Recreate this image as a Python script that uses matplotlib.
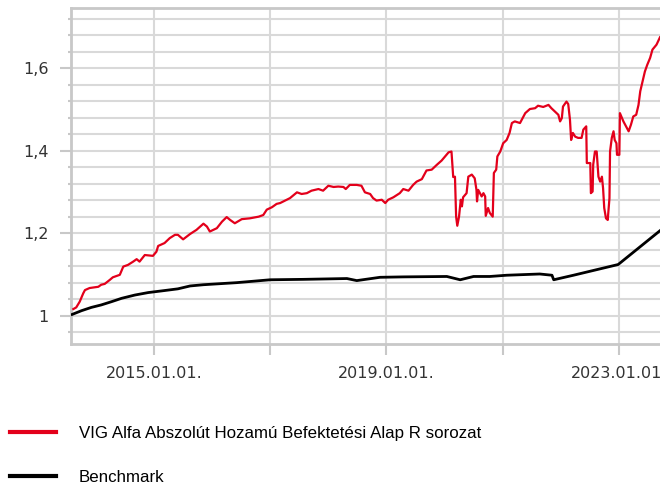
import matplotlib
matplotlib.use("Agg")
import matplotlib.pyplot as plt
from matplotlib.ticker import MultipleLocator, FuncFormatter, FixedLocator

# dates as decimal years, values as growth of 1 unit
fund_t = [2013.61, 2013.66, 2013.72, 2013.78, 2013.81, 2013.89, 2014.04, 2014.09, 2014.15, 2014.24,
          2014.29, 2014.41, 2014.47, 2014.55, 2014.64, 2014.70, 2014.75, 2014.84, 2014.98, 2015.04,
          2015.07, 2015.18, 2015.27, 2015.36, 2015.41, 2015.50, 2015.62, 2015.73, 2015.85, 2015.91,
          2015.96, 2016.08, 2016.17, 2016.25, 2016.31, 2016.39, 2016.51, 2016.65, 2016.80, 2016.88,
          2016.94, 2017.03, 2017.11, 2017.17, 2017.34, 2017.46, 2017.54, 2017.63, 2017.71, 2017.83,
          2017.91, 2018.00, 2018.09, 2018.17, 2018.26, 2018.30, 2018.37, 2018.49, 2018.57, 2018.63,
          2018.72, 2018.77, 2018.83, 2018.92, 2018.98, 2019.03, 2019.12, 2019.23, 2019.29, 2019.38,
          2019.46, 2019.52, 2019.61, 2019.69, 2019.78, 2019.87, 2019.95, 2020.01, 2020.07, 2020.12,
          2020.15, 2020.18, 2020.20, 2020.22, 2020.25, 2020.28, 2020.30, 2020.32, 2020.38, 2020.41,
          2020.47, 2020.52, 2020.55, 2020.56, 2020.58, 2020.61, 2020.64, 2020.67, 2020.70, 2020.71,
          2020.75, 2020.78, 2020.83, 2020.85, 2020.89, 2020.91, 2020.96, 2020.98, 2021.01, 2021.07,
          2021.12, 2021.16, 2021.21, 2021.30, 2021.33, 2021.39, 2021.47, 2021.56, 2021.61, 2021.70,
          2021.79, 2021.84, 2021.90, 2021.96, 2021.99, 2022.02, 2022.04, 2022.10, 2022.13, 2022.16,
          2022.18, 2022.21, 2022.25, 2022.30, 2022.36, 2022.39, 2022.44, 2022.45, 2022.51, 2022.52,
          2022.55, 2022.56, 2022.59, 2022.62, 2022.65, 2022.68, 2022.71, 2022.73, 2022.75, 2022.78,
          2022.81, 2022.84, 2022.85, 2022.88, 2022.91, 2022.93, 2022.96, 2022.97, 2023.01, 2023.02,
          2023.08, 2023.14, 2023.17, 2023.21, 2023.25, 2023.30, 2023.34, 2023.37, 2023.41, 2023.45,
          2023.49, 2023.54, 2023.58, 2023.65, 2023.71]
fund_v = [1.016, 1.020, 1.034, 1.054, 1.062, 1.067, 1.070, 1.075, 1.077, 1.087,
          1.093, 1.099, 1.119, 1.123, 1.131, 1.137, 1.131, 1.147, 1.145, 1.155,
          1.169, 1.176, 1.188, 1.196, 1.196, 1.185, 1.198, 1.208, 1.223, 1.216,
          1.204, 1.212, 1.228, 1.239, 1.232, 1.224, 1.234, 1.236, 1.240, 1.244,
          1.257, 1.263, 1.271, 1.273, 1.285, 1.299, 1.295, 1.297, 1.303, 1.307,
          1.303, 1.315, 1.312, 1.313, 1.312, 1.307, 1.317, 1.317, 1.315, 1.299,
          1.295, 1.285, 1.279, 1.281, 1.273, 1.281, 1.287, 1.297, 1.307, 1.303,
          1.317, 1.325, 1.331, 1.352, 1.354, 1.366, 1.376, 1.386, 1.396, 1.398,
          1.336, 1.337, 1.240, 1.218, 1.240, 1.281, 1.265, 1.287, 1.297, 1.337,
          1.342, 1.333, 1.305, 1.277, 1.305, 1.297, 1.289, 1.297, 1.289, 1.242,
          1.261, 1.249, 1.240, 1.346, 1.354, 1.386, 1.398, 1.406, 1.418, 1.426,
          1.443, 1.467, 1.471, 1.467, 1.475, 1.491, 1.501, 1.503, 1.509, 1.506,
          1.511, 1.503, 1.495, 1.487, 1.471, 1.479, 1.507, 1.519, 1.513, 1.475,
          1.426, 1.443, 1.434, 1.431, 1.431, 1.451, 1.459, 1.370, 1.370, 1.297,
          1.301, 1.366, 1.398, 1.398, 1.337, 1.325, 1.337, 1.309, 1.261, 1.236,
          1.232, 1.285, 1.398, 1.431, 1.447, 1.426, 1.418, 1.390, 1.390, 1.491,
          1.471, 1.455, 1.447, 1.463, 1.483, 1.487, 1.511, 1.544, 1.568, 1.592,
          1.608, 1.625, 1.645, 1.657, 1.675]

bench_t = [2013.59, 2013.75, 2013.92, 2014.09, 2014.27, 2014.44, 2014.67, 2014.90, 2015.13, 2015.41,
           2015.62, 2015.85, 2016.42, 2017.00, 2017.57, 2018.32, 2018.49, 2018.89, 2019.29, 2020.04,
           2020.27, 2020.50, 2020.78, 2021.07, 2021.64, 2021.85, 2021.88, 2022.22, 2022.99, 2023.71]
bench_v = [1.003, 1.012, 1.020, 1.026, 1.034, 1.042, 1.050, 1.056, 1.060, 1.065,
           1.072, 1.075, 1.080, 1.087, 1.088, 1.090, 1.085, 1.093, 1.094, 1.095,
           1.087, 1.095, 1.095, 1.098, 1.101, 1.098, 1.087, 1.098, 1.124, 1.206]

fund_label = "VIG Alfa Abszolút Hozamú Befektetési Alap R sorozat"
bench_label = "Benchmark"
xtick_years = [2015, 2017, 2019, 2021, 2023]
xtick_labels = ["2015.01.01.", "", "2019.01.01.", "", "2023.01.01."]

plt.rcParams['font.family'] = ['DejaVu Sans']
fig = plt.figure(figsize=(6.6, 4.86), dpi=100)
ax = fig.add_axes([0.1076, 0.2922, 0.8924, 0.6914])

grid_c = '#d9d9d9'
spine_c = '#c8c8c8'

l1, = ax.plot(fund_t, fund_v, color='#e3001b', linewidth=1.6, zorder=3)
l2, = ax.plot(bench_t, bench_v, color='black', linewidth=2.0, zorder=3)

ax.set_xlim(2013.57, 2023.71)
ax.set_ylim(0.9313, 1.746)

ax.xaxis.set_major_locator(FixedLocator(xtick_years))
ax.set_xticklabels(xtick_labels)
ax.yaxis.set_major_locator(MultipleLocator(0.2))
ax.yaxis.set_minor_locator(MultipleLocator(0.04))
ax.yaxis.set_major_formatter(FuncFormatter(lambda v, p: ('%g' % round(v, 2)).replace('.', ',')))

ax.grid(True, which='both', color=grid_c, linewidth=1.5, zorder=0)
ax.set_axisbelow(True)
ax.tick_params(axis='both', which='major', length=8, width=1.5, color=spine_c,
               labelsize=11.5, labelcolor='#333333', pad=8)
ax.tick_params(axis='y', which='minor', length=2.5, width=1.5, color=spine_c)

for s in ['left', 'bottom', 'top']:
    ax.spines[s].set_color(spine_c)
    ax.spines[s].set_linewidth(2)
ax.spines['right'].set_visible(False)

fig.legend([l1, l2], [fund_label, bench_label], loc='upper left',
           bbox_to_anchor=(0.015, 0.124), frameon=False, borderpad=0, borderaxespad=0,
           handlelength=2.7, handletextpad=1.35, labelspacing=1.75,
           prop={'family': 'Liberation Sans', 'size': 12.2})
for h in fig.legends[0].get_lines():
    h.set_linewidth(3)

fig.savefig('out.png', dpi=100)
